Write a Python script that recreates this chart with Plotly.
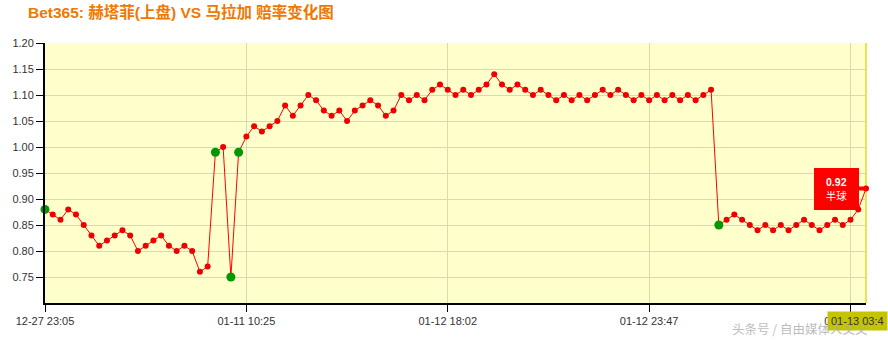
import plotly.graph_objects as go

odds = [0.88, 0.87, 0.86, 0.88, 0.87, 0.85, 0.83, 0.81, 0.82, 0.83, 0.84, 0.83, 0.80, 0.81, 0.82, 0.83,
        0.81, 0.80, 0.81, 0.80, 0.76, 0.77, 0.99, 1.00, 0.75, 0.99,
        1.02, 1.04, 1.03, 1.04, 1.05, 1.08, 1.06, 1.08, 1.10, 1.09, 1.07, 1.06, 1.07, 1.05, 1.07, 1.08,
        1.09, 1.08, 1.06, 1.07, 1.10, 1.09, 1.10, 1.09, 1.11, 1.12, 1.11, 1.10, 1.11, 1.10, 1.11,
        1.12, 1.14, 1.12, 1.11, 1.12, 1.11, 1.10, 1.11, 1.10, 1.09, 1.10, 1.09, 1.10, 1.09, 1.10,
        1.11, 1.10, 1.11, 1.10, 1.09, 1.10, 1.09, 1.10, 1.09, 1.10, 1.09, 1.10, 1.09, 1.10, 1.11,
        0.85, 0.86, 0.87, 0.86, 0.85, 0.84, 0.85, 0.84, 0.85, 0.84, 0.85, 0.86, 0.85, 0.84, 0.85,
        0.86, 0.85, 0.86, 0.88, 0.92]
change_idx = [0, 22, 24, 25, 87]
tick_idx = [0, 26, 52, 78, 104]
tick_labels = ["12-27 23:05", "01-11 10:25", "01-12 18:02", "01-12 23:47", "01-13 03:4"]
y_ticks = [0.75, 0.80, 0.85, 0.90, 0.95, 1.00, 1.05, 1.10, 1.15, 1.20]
last_value_text = "0.92"
last_handicap = "半球"
title = "Bet365: 赫塔菲(上盘) VS 马拉加 赔率变化图"
watermark = "头条号 / 自由媒体人文文"

idx = list(range(len(odds)))
fig = go.Figure()
fig.add_trace(go.Scatter(x=idx, y=odds, mode="lines+markers",
                         line=dict(color="#FF0000", width=1),
                         marker=dict(color="#EE0000", size=6),
                         hoverinfo="skip", cliponaxis=False))
fig.add_trace(go.Scatter(x=change_idx, y=[odds[i] for i in change_idx], mode="markers",
                         marker=dict(color="#009900", size=9),
                         hoverinfo="skip", cliponaxis=False))

fnt = "Liberation Sans, Arial, Noto Sans CJK SC, sans-serif"
fig.update_layout(
    width=888, height=340, showlegend=False,
    margin=dict(l=45, r=22, t=43, b=37),
    paper_bgcolor="white", plot_bgcolor="#FFFFCC",
    font=dict(family=fnt, size=11, color="#333333"),
    title=dict(text="<b>" + title + "</b>", xref="container", yref="container",
               x=28/888, xanchor="left", y=1-13/340, yanchor="middle",
               font=dict(family=fnt, size=15.5, color="#F07800")),
    xaxis=dict(range=[0, len(odds)-1], tickmode="array", tickvals=tick_idx, ticktext=tick_labels,
               showgrid=True, gridcolor="#DADAB0", gridwidth=1, zeroline=False,
               showline=True, linecolor="black", linewidth=2,
               ticks="outside", ticklen=7, tickcolor="black", tickwidth=1,
               tickfont=dict(size=11, color="#333333")),
    yaxis=dict(range=[0.70, 1.20], tickmode="array", tickvals=y_ticks,
               ticktext=[f"{v:.2f}" for v in y_ticks],
               showgrid=True, gridcolor="#DADAB0", gridwidth=1, zeroline=False,
               showline=True, linecolor="black", linewidth=2,
               ticks="outside", ticklen=7, tickcolor="black", tickwidth=1,
               tickfont=dict(size=11, color="#333333")),
)
# right border of plot area
fig.add_shape(type="line", xref="paper", yref="paper", x0=1, x1=1, y0=0, y1=1,
              line=dict(color="#E6E650", width=2), layer="below")
# callout for last value
fig.add_annotation(x=len(odds)-1, y=odds[-1],
                   text="<b>" + last_value_text + "</b><br>" + last_handicap,
                   showarrow=True, arrowhead=0, arrowcolor="#FF0000", arrowwidth=4,
                   ax=-30, ay=0, bgcolor="#FF0000", bordercolor="#FF0000", borderpad=2,
                   width=39, height=36,
                   font=dict(color="white", size=10.5, family=fnt), align="center")
# highlighted last x label box
fig.add_annotation(xref="paper", yref="paper", x=1.0, y=-0.069, xanchor="right", yanchor="middle",
                   text=tick_labels[-1], showarrow=False, bgcolor="#C4C400", borderpad=3,
                   font=dict(color="#333333", size=11, family=fnt), xshift=22)
# watermark
fig.add_annotation(xref="paper", yref="paper", x=1.0, y=-0.098, xanchor="right", yanchor="middle",
                   text=watermark, showarrow=False, xshift=4,
                   font=dict(color="rgba(175,175,175,0.85)", size=12.5, family="Noto Sans CJK SC, sans-serif"))

fig.write_html("out.html")
